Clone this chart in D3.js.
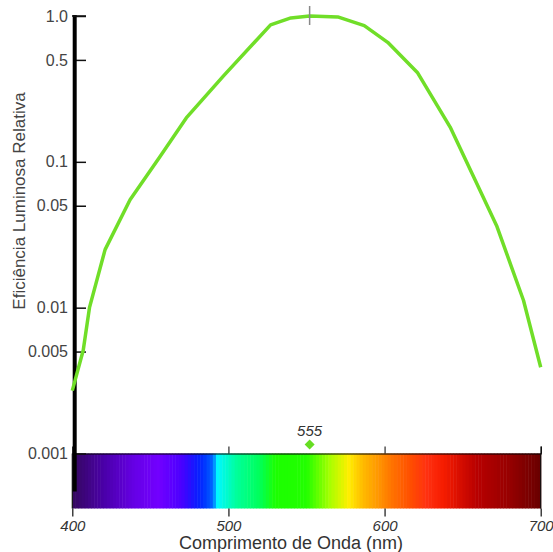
<!DOCTYPE html>
<html>
<head>
<meta charset="utf-8">
<script src="https://cdn.jsdelivr.net/npm/d3@7"></script>
<style>
  body { margin: 0; background: #fff; }
  svg { font-family: "Liberation Sans", Arial, sans-serif; }
</style>
</head>
<body>
<div id="chart"></div>
<script>
// luminous efficiency curve
const wavelengths = [400, 407, 411, 421, 437, 456, 473, 497, 527, 540, 552, 570, 587, 602, 621, 642, 658, 672, 689, 700];
const efficiency = [0.0027, 0.0051, 0.0100, 0.025, 0.055, 0.108, 0.20, 0.39, 0.87, 0.97, 1.0, 0.985, 0.86, 0.66, 0.41, 0.173, 0.075, 0.036, 0.0112, 0.0039];

const yTicks = [1, 0.5, 0.1, 0.05, 0.01, 0.005, 0.001];
const yTickLabels = ["1.0", "0.5", "0.1", "0.05", "0.01", "0.005", "0.001"];
const xTicks = [400, 500, 600, 700];
const peakLabel = "555";

// spectrum colour stops
const specWl = [400, 420, 440, 455, 470, 480, 484, 490, 493, 505, 520, 530, 550, 565, 577, 586, 595, 605, 616, 627, 638, 648, 659, 680, 700];
const specColor = ["#35085e", "#4a00a8", "#6600e6", "#7200ff", "#4a00ff", "#0a1cff", "#0030ff", "#0066ff", "#00f6ff", "#00ff9c", "#00ff5a", "#1cff00", "#22ff00", "#a8ff00", "#ffee00", "#ffbb00", "#ff9a00", "#ff7200", "#ff5000", "#ff3010", "#f51c00", "#d80e00", "#b80000", "#960000", "#680000"];

const data = wavelengths.map((w, i) => ({ w, v: efficiency[i] }));

const width = 553, height = 552;
const barHeight = 55;

const svg = d3.select("#chart").append("svg")
    .attr("width", width)
    .attr("height", height);

const x = d3.scaleLinear().domain([400, 700]).range([72.3, 540.7]);
const y = d3.scaleLog().domain([0.001, 1]).range([453.5, 16]);
const color = d3.scaleLinear().domain(specWl).range(specColor);

const barTop = y(0.001);
const barBottom = barTop + barHeight;

// spectrum strip
svg.append("g")
  .selectAll("rect")
  .data(d3.range(400, 700, 2))
  .join("rect")
    .attr("x", d => x(d))
    .attr("y", barTop)
    .attr("width", x(402) - x(400) + 0.5)
    .attr("height", barHeight)
    .attr("fill", d => color(d + 1));

// ticks above the strip
svg.append("g")
    .attr("transform", `translate(0,${barTop})`)
    .call(d3.axisTop(x).tickValues([500, 600, 700]).tickSize(7).tickFormat(""))
    .call(g => g.select(".domain").attr("stroke", "#000").attr("stroke-width", 1.2));

// ticks and labels below
svg.append("g")
    .attr("transform", `translate(0,${barBottom})`)
    .call(d3.axisBottom(x).tickValues(xTicks).tickSize(8).tickPadding(4).tickFormat(d3.format("d")))
    .call(g => g.select(".domain").remove())
    .call(g => g.selectAll("line").attr("stroke", "#111").attr("stroke-width", 1.2))
    .call(g => g.selectAll("text")
        .attr("fill", "#333")
        .style("font-size", "15px")
        .style("font-style", "italic"));

// strip side edges
svg.append("g").selectAll("line")
  .data([400, 700])
  .join("line")
    .attr("x1", d => x(d)).attr("x2", d => x(d))
    .attr("y1", barTop).attr("y2", barBottom)
    .attr("stroke", "#111")
    .attr("stroke-width", 1.2);

// y axis
svg.append("g")
    .attr("transform", "translate(75,0)")
    .call(d3.axisLeft(y).tickValues(yTicks).tickSize(-11).tickPadding(7)
        .tickFormat((d, i) => yTickLabels[i]))
    .call(g => g.select(".domain").remove())
    .call(g => g.selectAll("line").attr("stroke", "#111").attr("stroke-width", 1.5))
    .call(g => g.selectAll("text").attr("fill", "#444").style("font-size", "16px"));

svg.append("line")
    .attr("x1", 74.7).attr("x2", 74.7)
    .attr("y1", y(1) - 1)
    .attr("y2", barTop + 38)
    .attr("stroke", "#000")
    .attr("stroke-width", 4);

svg.append("line")
    .attr("x1", 72).attr("x2", 86)
    .attr("y1", y(1)).attr("y2", y(1))
    .attr("stroke", "#111")
    .attr("stroke-width", 1.5);

// curve
const line = d3.line()
    .x(d => x(d.w))
    .y(d => y(d.v));

svg.append("path")
    .datum(data)
    .attr("fill", "none")
    .attr("stroke", "#70de28")
    .attr("stroke-width", 3.5)
    .attr("stroke-linejoin", "round")
    .attr("d", line);

// peak marker
const peak = d3.greatest(data, d => d.v);

svg.append("line")
    .attr("x1", x(peak.w)).attr("x2", x(peak.w))
    .attr("y1", y(peak.v) - 10).attr("y2", y(peak.v) + 9)
    .attr("stroke", "#888")
    .attr("stroke-width", 1.5);

svg.append("path")
    .attr("d", d3.symbol(d3.symbolDiamond2, 64)())
    .attr("transform", `translate(${x(peak.w)},${barTop - 9})`)
    .attr("fill", "#66dd22");

svg.append("text")
    .attr("x", x(peak.w))
    .attr("y", barTop - 18)
    .attr("text-anchor", "middle")
    .attr("fill", "#333")
    .style("font-size", "15px")
    .style("font-style", "italic")
    .text(peakLabel);

// axis titles
svg.append("text")
    .attr("x", 291)
    .attr("y", 549)
    .attr("text-anchor", "middle")
    .attr("fill", "#333")
    .style("font-size", "18px")
    .text("Comprimento de Onda (nm)");

svg.append("text")
    .attr("transform", "translate(25,201) rotate(-90)")
    .attr("text-anchor", "middle")
    .attr("fill", "#444")
    .style("font-size", "17px")
    .text("Eficiência Luminosa Relativa");
</script>
</body>
</html>
